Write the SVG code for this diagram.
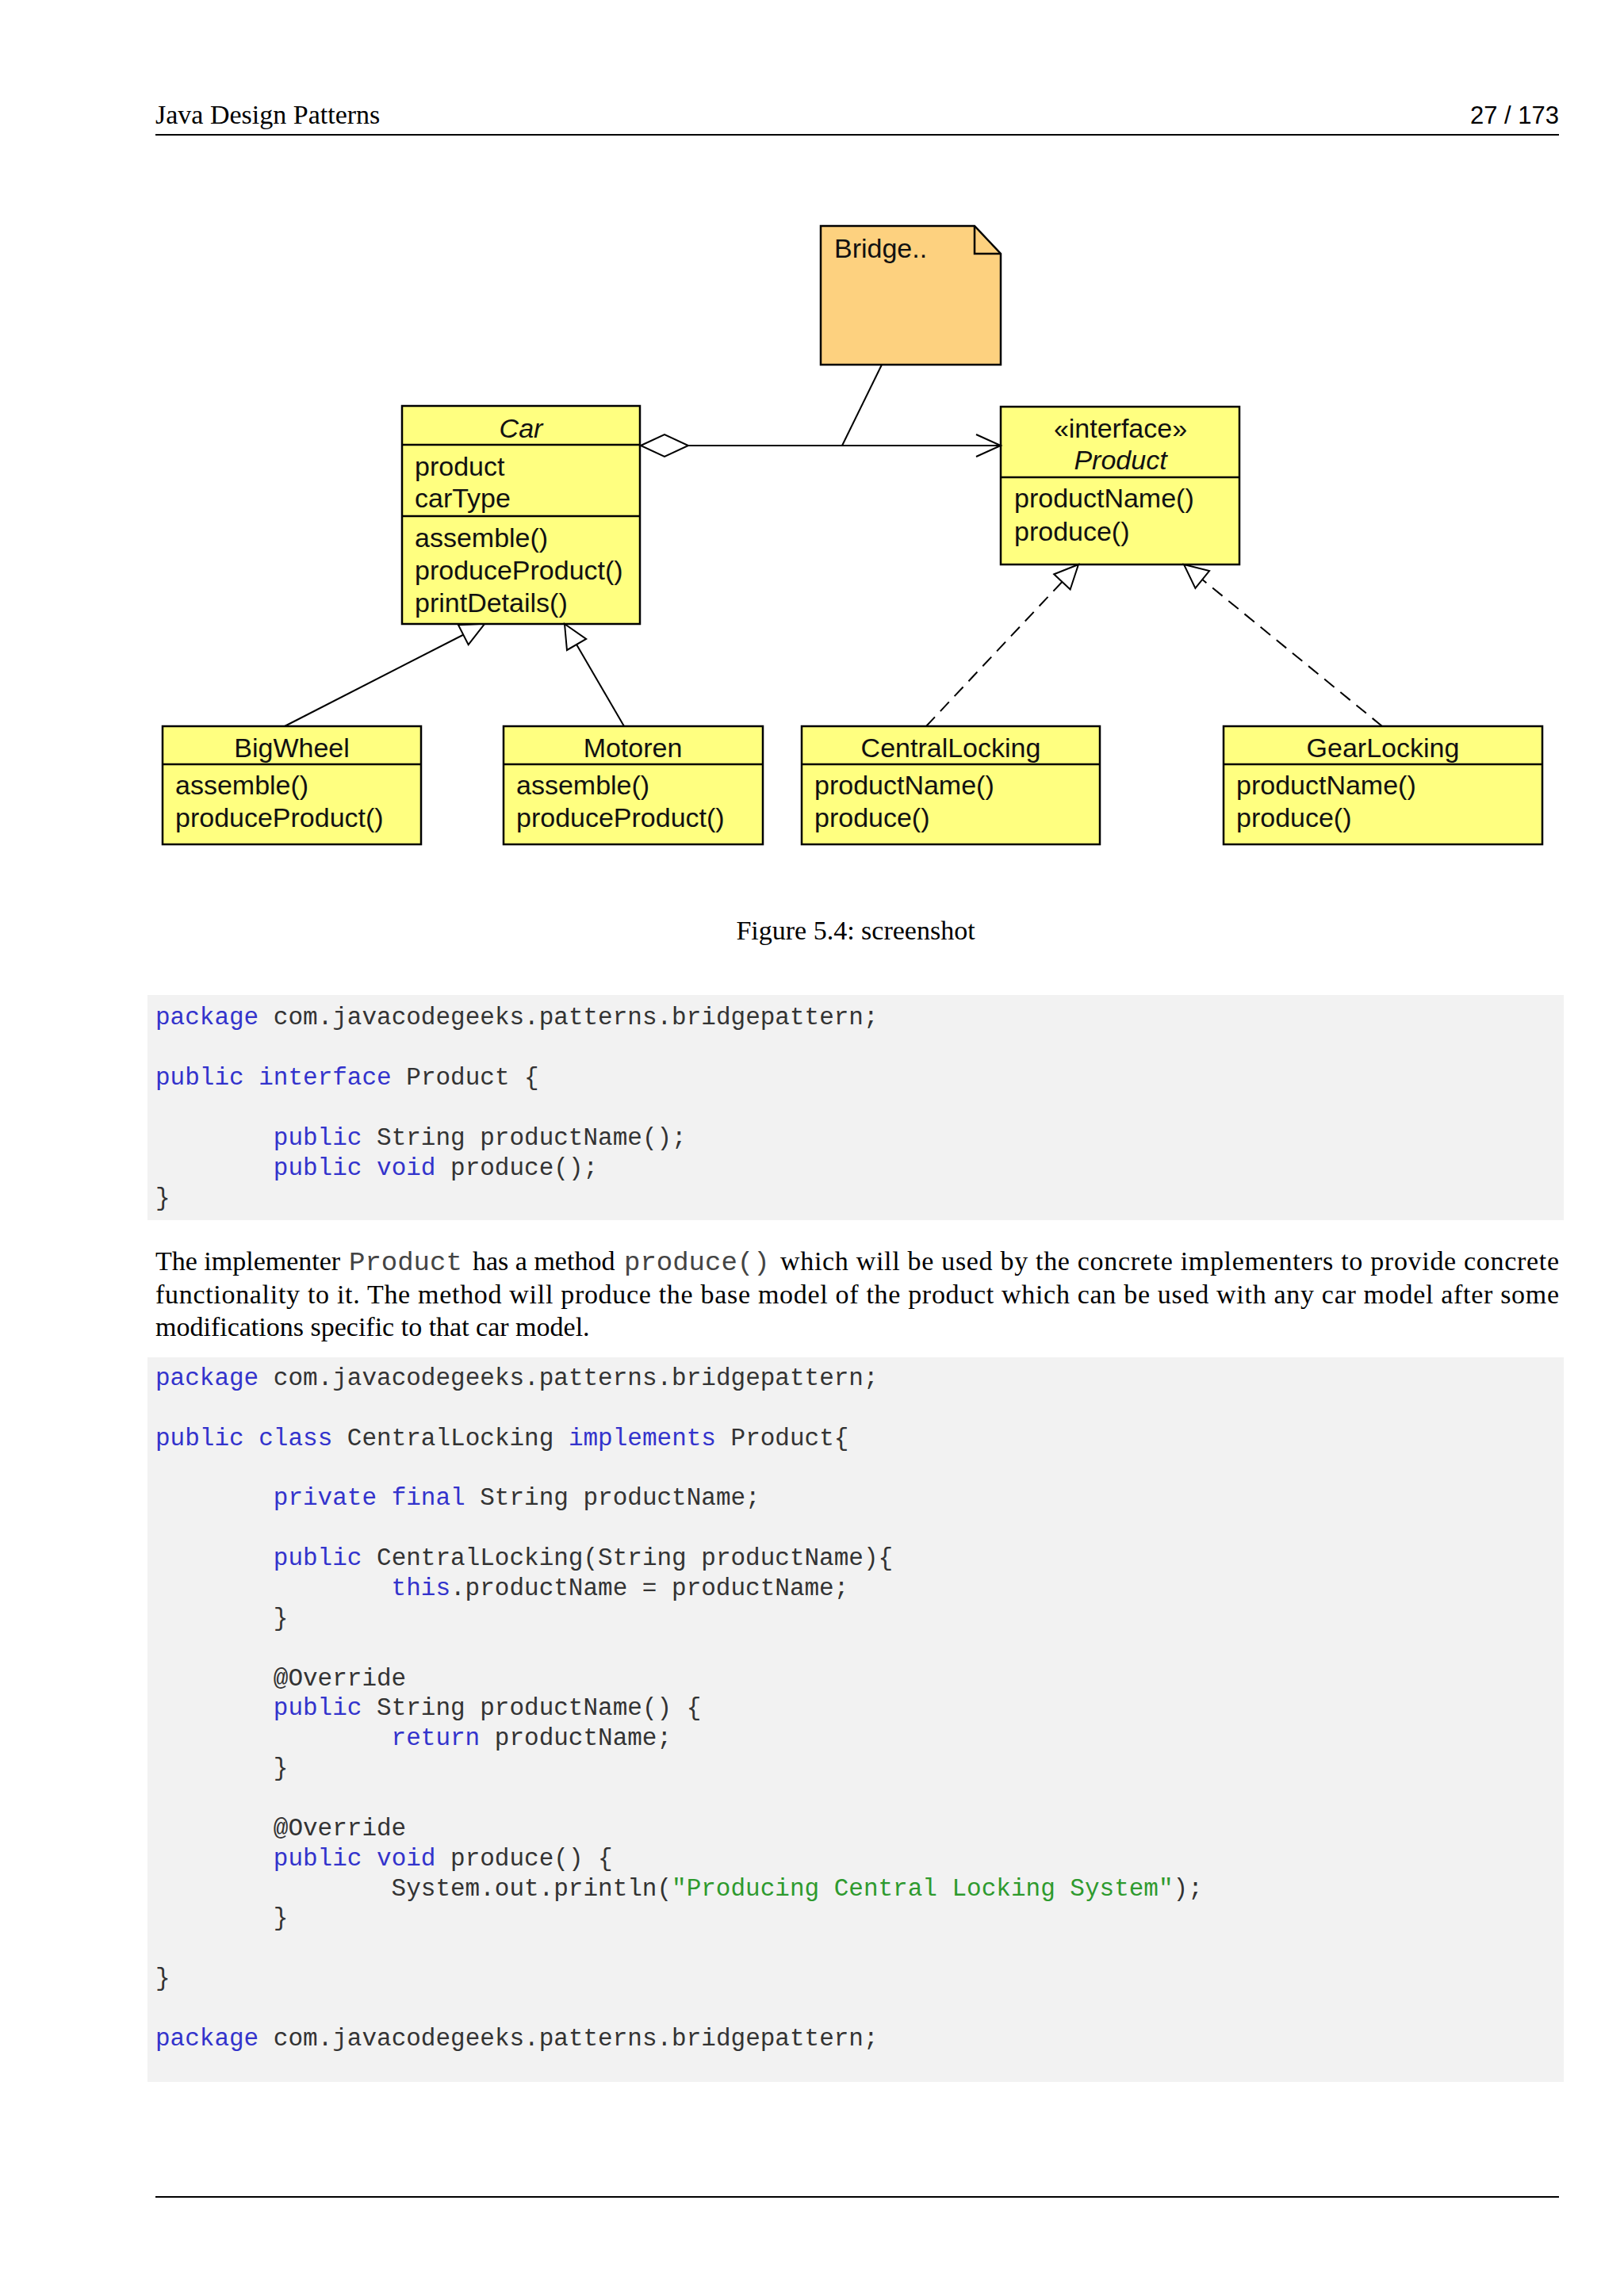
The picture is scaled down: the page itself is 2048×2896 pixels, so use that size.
<svg xmlns="http://www.w3.org/2000/svg" width="2048" height="2896" viewBox="0 0 2048 2896">
<defs>
<style>
.page{font-family:"Liberation Serif","Times New Roman",serif;font-size:34px;fill:#000}
.pnum{font-family:"Liberation Sans",Arial,sans-serif;font-size:31px;fill:#000}
.pm{font-family:"Liberation Mono","Courier New",monospace;font-size:34px;fill:#444}
.cls{fill:#ffff80;stroke:#000;stroke-width:2.5}
.note{fill:#fdd17f;stroke:#000;stroke-width:2.5}
.div{stroke:#000;stroke-width:2.5;fill:none}
.lbl{font-family:"Liberation Sans",Arial,sans-serif;font-size:34px;fill:#111}
.it{font-style:italic}
.mid{text-anchor:middle}
.code{font-family:"Liberation Mono","Courier New",monospace;font-size:31px;fill:#333}
.kw{fill:#3333cc}
.str{fill:#2e9a2e}
.conn{stroke:#000;stroke-width:2;fill:none}
.dash{stroke-dasharray:16 10}
.rule{stroke:#000;stroke-width:2}
</style>
<marker id="tri" markerUnits="userSpaceOnUse" markerWidth="34" markerHeight="34" refX="30" refY="14" orient="auto" overflow="visible">
<path d="M0,0 L30,14 L0,28 Z" fill="#fff" stroke="#000" stroke-width="2" stroke-dasharray="none"/>
</marker>
<marker id="open" markerUnits="userSpaceOnUse" markerWidth="34" markerHeight="30" refX="31" refY="14" orient="auto" overflow="visible">
<path d="M0,0 L31,14 L0,28" fill="none" stroke="#000" stroke-width="2"/>
</marker>
<marker id="dia" markerUnits="userSpaceOnUse" markerWidth="62" markerHeight="30" refX="0" refY="14" orient="auto" overflow="visible">
<path d="M0,14 L30,0 L60,14 L30,28 Z" fill="#fff" stroke="#000" stroke-width="2"/>
</marker>
</defs>
<rect width="2048" height="2896" fill="#fff"/>

<g id="header">
<text class="page" x="196" y="156">Java Design Patterns</text>
<text class="pnum" x="1966" y="156" text-anchor="end">27 / 173</text>
<line class="rule" x1="196" y1="170" x2="1966" y2="170"/>
</g>

<g id="note-bridge">
<path class="note" d="M1035,285 H1229 L1262,320 V460 H1035 Z"/>
<path class="div" d="M1229,285 V320 H1262" stroke-width="2"/>
<text class="lbl" x="1052" y="325">Bridge..</text>
</g>

<g id="node-car">
<rect class="cls" x="507" y="512" width="300" height="275"/>
<line class="div" x1="507" y1="561" x2="807" y2="561"/>
<line class="div" x1="507" y1="651" x2="807" y2="651"/>
<text class="lbl it mid" x="657" y="552">Car</text>
<text class="lbl" x="523" y="600">product</text>
<text class="lbl" x="523" y="640">carType</text>
<text class="lbl" x="523" y="690">assemble()</text>
<text class="lbl" x="523" y="731">produceProduct()</text>
<text class="lbl" x="523" y="772">printDetails()</text>
</g>

<g id="node-product">
<rect class="cls" x="1262" y="513" width="301" height="199"/>
<line class="div" x1="1262" y1="602" x2="1563" y2="602"/>
<text class="lbl mid" x="1413" y="552">«interface»</text>
<text class="lbl it mid" x="1413" y="592">Product</text>
<text class="lbl" x="1279" y="640">productName()</text>
<text class="lbl" x="1279" y="682">produce()</text>
</g>

<g id="node-bigwheel">
<rect class="cls" x="205" y="916" width="326" height="149"/>
<line class="div" x1="205" y1="964" x2="531" y2="964"/>
<text class="lbl mid" x="368" y="955">BigWheel</text>
<text class="lbl" x="221" y="1002">assemble()</text>
<text class="lbl" x="221" y="1043">produceProduct()</text>
</g>

<g id="node-motoren">
<rect class="cls" x="635" y="916" width="327" height="149"/>
<line class="div" x1="635" y1="964" x2="962" y2="964"/>
<text class="lbl mid" x="798" y="955">Motoren</text>
<text class="lbl" x="651" y="1002">assemble()</text>
<text class="lbl" x="651" y="1043">produceProduct()</text>
</g>

<g id="node-centrallocking">
<rect class="cls" x="1011" y="916" width="376" height="149"/>
<line class="div" x1="1011" y1="964" x2="1387" y2="964"/>
<text class="lbl mid" x="1199" y="955">CentralLocking</text>
<text class="lbl" x="1027" y="1002">productName()</text>
<text class="lbl" x="1027" y="1043">produce()</text>
</g>

<g id="node-gearlocking">
<rect class="cls" x="1543" y="916" width="402" height="149"/>
<line class="div" x1="1543" y1="964" x2="1945" y2="964"/>
<text class="lbl mid" x="1744" y="955">GearLocking</text>
<text class="lbl" x="1559" y="1002">productName()</text>
<text class="lbl" x="1559" y="1043">produce()</text>
</g>

<g id="connectors">
<line class="conn" x1="808" y1="562" x2="1262" y2="562" marker-start="url(#dia)" marker-end="url(#open)"/>
<line class="conn" x1="1112" y1="460" x2="1062" y2="562"/>
<line class="conn" x1="359" y1="916" x2="611" y2="787" marker-end="url(#tri)"/>
<line class="conn" x1="787" y1="916" x2="712" y2="787" marker-end="url(#tri)"/>
<line class="conn dash" x1="1168" y1="916" x2="1360" y2="712" marker-end="url(#tri)"/>
<line class="conn dash" x1="1743" y1="916" x2="1493" y2="712" marker-end="url(#tri)"/>
</g>

<g id="caption">
<text class="page mid" x="1079" y="1185">Figure 5.4: screenshot</text>
</g>

<g id="code1">
<rect x="186" y="1255" width="1786" height="284" fill="#f2f2f2"/>
<text class="code" x="196" y="1292" xml:space="preserve"><tspan class="kw">package</tspan> com.javacodegeeks.patterns.bridgepattern;</text>
<text class="code" x="196" y="1368" xml:space="preserve"><tspan class="kw">public</tspan> <tspan class="kw">interface</tspan> Product {</text>
<text class="code" x="344.8" y="1444" xml:space="preserve"><tspan class="kw">public</tspan> String productName();</text>
<text class="code" x="344.8" y="1482" xml:space="preserve"><tspan class="kw">public</tspan> <tspan class="kw">void</tspan> produce();</text>
<text class="code" x="196" y="1520">}</text>
</g>

<g id="paragraph">
<text class="page" x="196" y="1602">The implementer</text>
<text class="pm" x="440" y="1602">Product</text>
<text class="page" x="596" y="1602">has a method</text>
<text class="pm" x="787" y="1602">produce()</text>
<text class="page" x="984" y="1602" textLength="982" lengthAdjust="spacing">which will be used by the concrete implementers to provide concrete</text>
<text class="page" x="196" y="1643.5" textLength="1770" lengthAdjust="spacing">functionality to it. The method will produce the base model of the product which can be used with any car model after some</text>
<text class="page" x="196" y="1685">modifications specific to that car model.</text>
</g>

<g id="code2">
<rect x="186" y="1712" width="1786" height="914" fill="#f2f2f2"/>
<text class="code" x="196" y="1747" xml:space="preserve"><tspan class="kw">package</tspan> com.javacodegeeks.patterns.bridgepattern;</text>
<text class="code" x="196" y="1822.7" xml:space="preserve"><tspan class="kw">public</tspan> <tspan class="kw">class</tspan> CentralLocking <tspan class="kw">implements</tspan> Product{</text>
<text class="code" x="344.8" y="1898.4" xml:space="preserve"><tspan class="kw">private</tspan> <tspan class="kw">final</tspan> String productName;</text>
<text class="code" x="344.8" y="1974.1" xml:space="preserve"><tspan class="kw">public</tspan> CentralLocking(String productName){</text>
<text class="code" x="493.6" y="2012" xml:space="preserve"><tspan class="kw">this</tspan>.productName = productName;</text>
<text class="code" x="344.8" y="2049.8">}</text>
<text class="code" x="344.8" y="2125.5">@Override</text>
<text class="code" x="344.8" y="2163.4" xml:space="preserve"><tspan class="kw">public</tspan> String productName() {</text>
<text class="code" x="493.6" y="2201.2" xml:space="preserve"><tspan class="kw">return</tspan> productName;</text>
<text class="code" x="344.8" y="2239.1">}</text>
<text class="code" x="344.8" y="2314.8">@Override</text>
<text class="code" x="344.8" y="2352.6" xml:space="preserve"><tspan class="kw">public</tspan> <tspan class="kw">void</tspan> produce() {</text>
<text class="code" x="493.6" y="2390.5" xml:space="preserve">System.out.println(<tspan class="str">"Producing Central Locking System"</tspan>);</text>
<text class="code" x="344.8" y="2428.3">}</text>
<text class="code" x="196" y="2504">}</text>
<text class="code" x="196" y="2579.7" xml:space="preserve"><tspan class="kw">package</tspan> com.javacodegeeks.patterns.bridgepattern;</text>
</g>

<g id="footer">
<line class="rule" x1="196" y1="2771" x2="1966" y2="2771" stroke-width="1.5"/>
</g>
</svg>
